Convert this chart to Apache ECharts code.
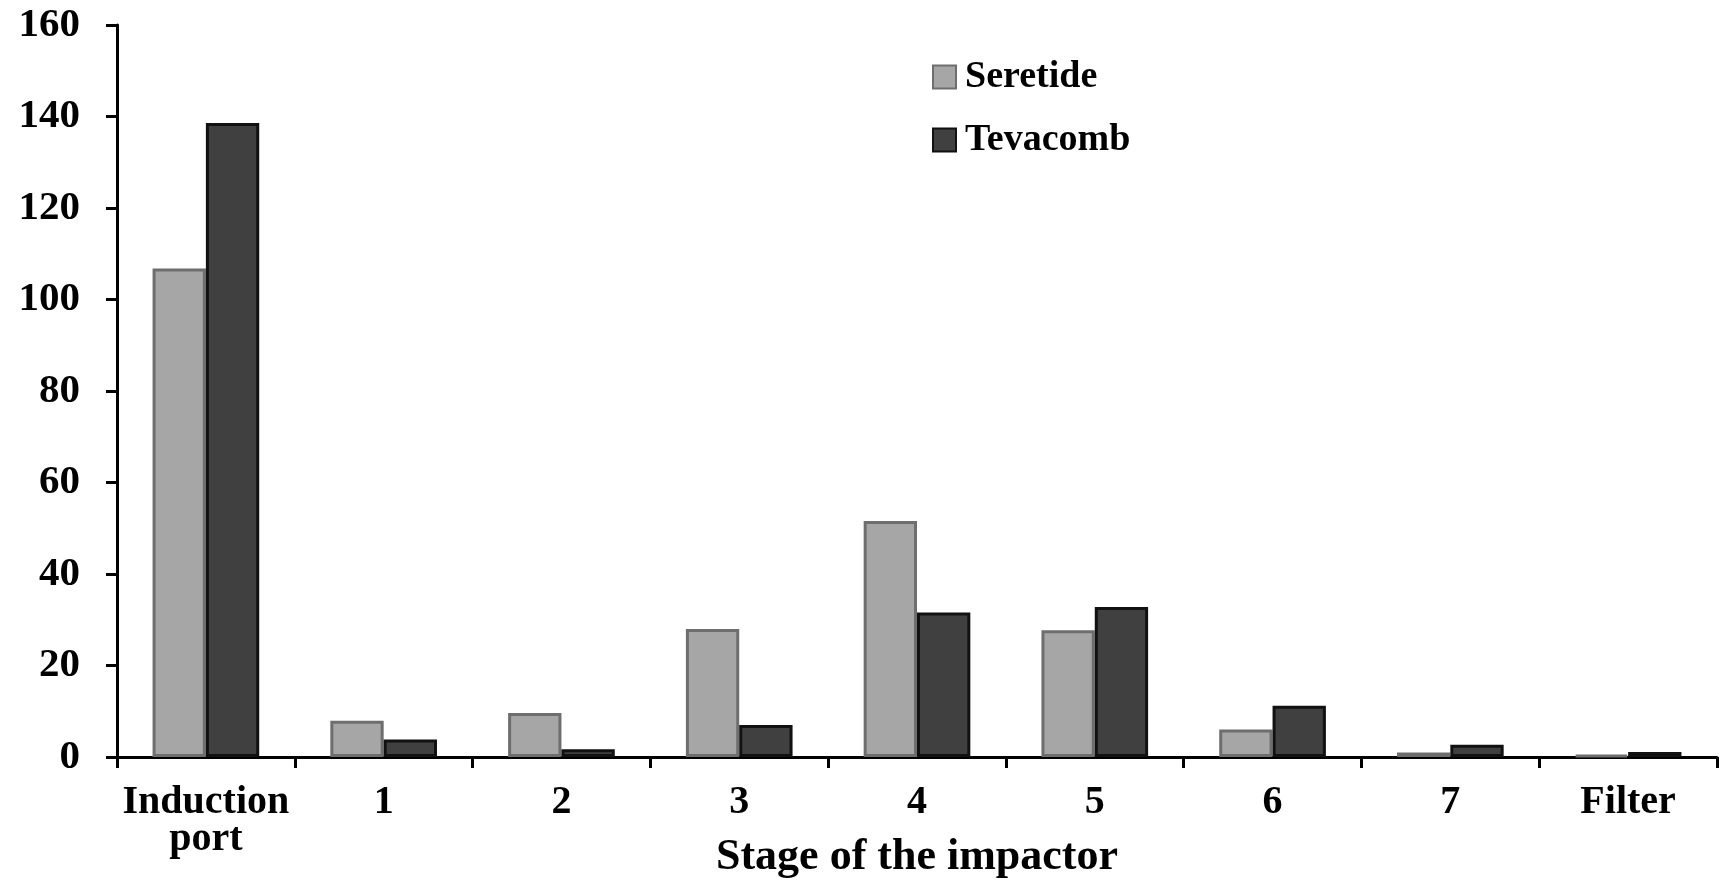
<!DOCTYPE html>
<html>
<head>
<meta charset="utf-8">
<script src="https://cdn.jsdelivr.net/npm/echarts@6/dist/echarts.min.js"></script>
<style>
html,body{margin:0;padding:0;background:#fff;}
#chart{width:1719px;height:878px;}
</style>
</head>
<body>
<div id="chart"></div>
<script>
const categories = ['Induction\nport', '1', '2', '3', '4', '5', '6', '7', 'Filter'];
const seretide = [106.8, 7.9, 9.6, 28.0, 51.6, 27.7, 6.0, 1.0, 0.4];
const tevacomb = [138.6, 3.8, 1.7, 7.0, 31.6, 32.8, 11.2, 2.7, 1.1];
const yTicks = { min: 0, max: 160, interval: 20 };

const font = '"Liberation Serif", "Times New Roman", serif';
const chart = echarts.init(document.getElementById('chart'));
chart.setOption({
  animation: false,
  backgroundColor: '#fff',
  grid: { left: 117, right: 2, top: 25, bottom: 121, outerBoundsMode: 'none', containLabel: false },
  legend: {
    orient: 'vertical',
    left: 927,
    top: 53,
    itemWidth: 23,
    itemHeight: 23,
    itemGap: 25,
    icon: 'rect',
    textStyle: { fontFamily: font, fontWeight: 'bold', fontSize: 38, color: '#000', padding: [0, 0, 0, 4] },
    data: ['Seretide', 'Tevacomb']
  },
  xAxis: {
    type: 'category',
    data: categories,
    axisLine: { lineStyle: { color: '#000', width: 3 } },
    axisTick: { show: true, length: 11, lineStyle: { color: '#000', width: 3 } },
    axisLabel: { interval: 0, fontFamily: font, fontWeight: 'bold', fontSize: 40, color: '#000', margin: 27, lineHeight: 37 },
    name: 'Stage of the impactor',
    nameLocation: 'middle',
    nameGap: 79,
    nameMoveOverlap: false,
    nameTextStyle: { fontFamily: font, fontWeight: 'bold', fontSize: 44, color: '#000' }
  },
  yAxis: {
    type: 'value',
    min: yTicks.min, max: yTicks.max, interval: yTicks.interval,
    axisLine: { show: true, lineStyle: { color: '#000', width: 3 } },
    axisTick: { show: true, length: 11, lineStyle: { color: '#000', width: 3 } },
    axisLabel: { fontFamily: font, fontWeight: 'bold', fontSize: 41, color: '#000', margin: 37 },
    splitLine: { show: false }
  },
  series: [
    {
      name: 'Seretide', type: 'bar', data: seretide,
      barGap: '0%', barCategoryGap: '40%',
      itemStyle: { color: '#a6a6a6', borderColor: '#6e6e6e', borderWidth: 3 }
    },
    {
      name: 'Tevacomb', type: 'bar', data: tevacomb,
      barGap: '0%', barCategoryGap: '40%',
      itemStyle: { color: '#404040', borderColor: '#111', borderWidth: 3 }
    }
  ]
});
</script>
</body>
</html>
